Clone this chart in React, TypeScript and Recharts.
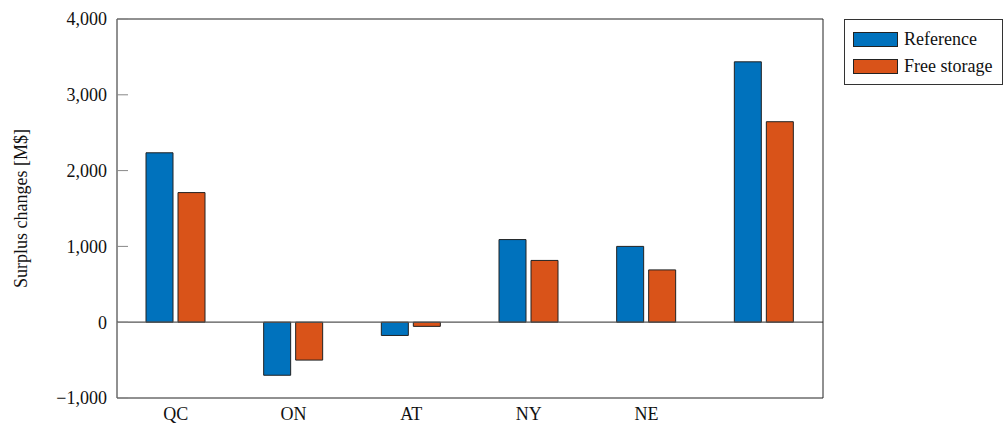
import {
  BarChart,
  Bar,
  XAxis,
  YAxis,
  ReferenceLine,
} from 'recharts';

// Surplus changes per region, in M$
const regions = ['QC', 'ON', 'AT', 'NY', 'NE', ''];
const referenceValues = [2235, -700, -175, 1090, 1000, 3435];
const freeStorageValues = [1710, -500, -55, 815, 690, 2645];
const yTicks = [-1000, 0, 1000, 2000, 3000, 4000];

const series = [
  { key: 'reference', name: 'Reference', color: '#0072BD' },
  { key: 'freeStorage', name: 'Free storage', color: '#D95319' },
];

const data = regions.map((name, i) => ({
  name,
  reference: referenceValues[i],
  freeStorage: freeStorageValues[i],
}));

const FONT = '"Liberation Serif", "Times New Roman", serif';
const fmt = (v: number) => (v < 0 ? '\u2212' : '') + Math.abs(v).toLocaleString('en-US');

// legend sits outside the plot, top right, so the chart keeps its full height
function LegendBox() {
  return (
    <div
      style={{
        position: 'absolute',
        left: 844,
        top: 19,
        border: '1px solid #333',
        background: '#fff',
        width: 159,
        height: 66,
        boxSizing: 'border-box',
        padding: '6px 0 0 8px',
        fontFamily: FONT,
        fontSize: 18,
        color: '#111',
      }}
    >
      {series.map((s) => (
        <div key={s.key} style={{ display: 'flex', alignItems: 'center', height: 27 }}>
          <span
            style={{
              display: 'inline-block',
              width: 45,
              height: 15,
              background: s.color,
              border: '1px solid #222',
              boxSizing: 'border-box',
              marginRight: 6,
            }}
          />
          {s.name}
        </div>
      ))}
    </div>
  );
}

export default function App() {
  return (
    <div style={{ position: 'absolute', left: 0, top: 0, width: 1003, height: 425, background: '#fff' }}>
      <BarChart
        width={1003}
        height={425}
        data={data}
        margin={{ top: 19, right: 179, bottom: 0, left: 57 }}
        barSize={27}
        barGap={5}
        style={{ fontFamily: FONT }}
      >
        <XAxis
          dataKey="name"
          height={27}
          axisLine={{ stroke: '#222' }}
          tickLine={false}
          tickSize={0}
          tickMargin={9}
          tick={{ fill: '#111', fontSize: 18, fontFamily: FONT }}
          interval={0}
        />
        <YAxis
          domain={[-1000, 4000]}
          ticks={yTicks}
          width={60}
          axisLine={{ stroke: '#222' }}
          tickLine={{ stroke: '#888' }}
          tickSize={-11}
          tickMargin={21}
          tickFormatter={fmt}
          tick={{ fill: '#111', fontSize: 18, fontFamily: FONT }}
          label={{
            value: 'Surplus changes [M$]',
            angle: -90,
            position: 'center',
            dx: -66,
            style: { fill: '#111', fontSize: 18, fontFamily: FONT, textAnchor: 'middle' },
          }}
        />
        <YAxis
          yAxisId="right"
          orientation="right"
          domain={[-1000, 4000]}
          ticks={yTicks}
          width={1}
          axisLine={{ stroke: '#222' }}
          tickLine={{ stroke: '#888' }}
          tickSize={-11}
          tick={false}
        />
        <ReferenceLine y={4000} stroke="#222" />
        <ReferenceLine y={0} stroke="#555" strokeWidth={1.2} />
        {series.map((s) => (
          <Bar
            key={s.key}
            dataKey={s.key}
            name={s.name}
            fill={s.color}
            stroke="#222"
            strokeWidth={1}
            isAnimationActive={false}
          />
        ))}
      </BarChart>
      <LegendBox />
    </div>
  );
}
